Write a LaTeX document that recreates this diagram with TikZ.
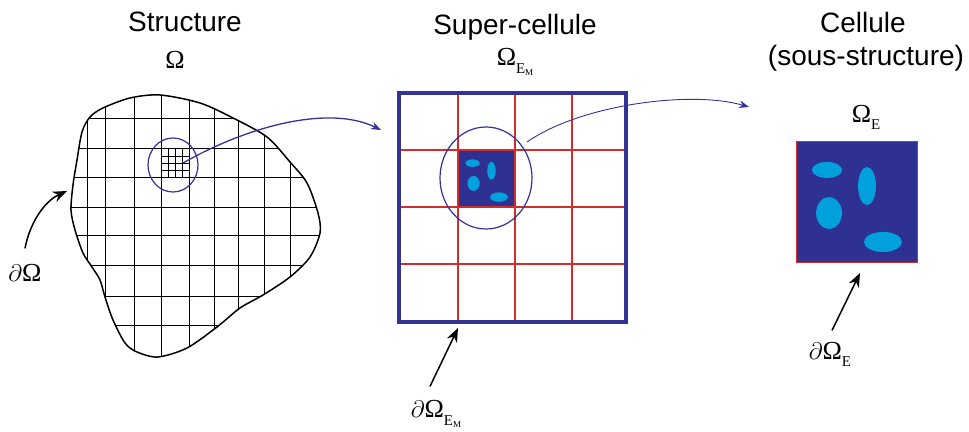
\documentclass[tikz,border=0pt]{standalone}
\usepackage{fontspec}
\setsansfont{Liberation Sans}
\newfontfamily\omfont{Liberation Serif}
\usepackage{tikz}
\usetikzlibrary{arrows.meta, positioning, shapes.geometric}
\definecolor{cellblue}{RGB}{46,49,146}
\definecolor{lineblue}{RGB}{52,50,152}
\definecolor{inclblue}{RGB}{0,160,220}
\definecolor{gridred}{RGB}{210,45,45}
\newcommand\subE{\raisebox{-3.5pt}{\fontsize{7.5}{7.5}\selectfont E}}
\newcommand\subEM{\raisebox{-4pt}{\fontsize{7.5}{7.5}\selectfont E\raisebox{-1pt}{\fontsize{4.5}{4.5}\selectfont M}}}
\newcommand\inclusions[3]{%
  \fill[inclblue] ({#1+0.256*#3},{#2+0.231*#3}) ellipse [x radius=0.062*#3pt, y radius=0.033*#3pt];
  \fill[inclblue] ({#1+0.587*#3},{#2+0.364*#3}) ellipse [x radius=0.037*#3pt, y radius=0.0785*#3pt];
  \fill[inclblue] ({#1+0.273*#3},{#2+0.587*#3}) ellipse [x radius=0.0535*#3pt, y radius=0.066*#3pt];
  \fill[inclblue] ({#1+0.719*#3},{#2+0.826*#3}) ellipse [x radius=0.0785*#3pt, y radius=0.0415*#3pt];
}

\begin{document}
\begin{tikzpicture}[
    x=0.5pt, y=-0.5pt,
    title/.style={font=\fontsize{14}{16}\selectfont\sffamily, anchor=base},
    sym/.style={font=\fontsize{13}{13}\selectfont\omfont, anchor=base, inner sep=1pt},
    mesh/.style={line width=0.5pt, black},
    outline/.style={line width=0.75pt},
    lens/.style={ellipse, draw=lineblue, line width=0.6pt, inner sep=0pt},
    redgrid/.style={draw=gridred, line width=0.55pt},
    superframe/.style={rectangle, draw=lineblue, line width=2pt, inner sep=0pt},
    arr/.style={-{Stealth[length=7pt, width=5.5pt]}, line width=0.75pt},
    zoomarr/.style={-{Stealth[length=5pt, width=3.8pt]}, draw=lineblue, line width=0.65pt}
]
\useasboundingbox (0,0) rectangle (969,432);

\node[title] (tstruct) at (185,32) {Structure};
\node[title] (tsuper) at (515,35) {Super-cellule};
\node[title] (tcell) at (863,33) {Cellule};
\node[title] (tsous) at (866,66) {(sous-structure)};

\node[sym] (omS) at (175,69) {Ω};
\node[sym] (omEM) at (515,66) {Ω\subEM};
\node[sym] (omE) at (866,123) {Ω\subE};

\path[save path=\blobshape] plot[smooth cycle, tension=0.5] coordinates {
  (160,95) (200,103) (233,118) (267,137) (290,162) (307,183) (318,213) (320,233)
  (310,257) (290,277) (263,295) (240,308) (217,327) (187,348) (158,357) (137,352)
  (125,343) (113,320) (105,297) (100,280) (92,267) (83,253) (75,230) (71,210)
  (73,185) (77,160) (82,132) (90,117) (103,108) (130,98)};
\begin{scope}
  \clip[use path=\blobshape];
  \foreach \gx in {87,105,134,161,189,214,238,264,290}
    \draw[mesh] (\gx,90) -- (\gx,360);
  \foreach \gy in {119,149,178,208,236,266,297,326}
    \draw[mesh] (65,\gy) -- (325,\gy);
\end{scope}
\draw[outline, use path=\blobshape];
\foreach \k in {1,2,3} {
  \draw[mesh] ({161+7*\k},149) -- ({161+7*\k},178);
  \draw[mesh] (161,{149+7.25*\k}) -- (189,{149+7.25*\k});
}
\node[lens, minimum width=25pt, minimum height=27pt] (lensA) at (173,165) {};

\fill[cellblue] (458,150) rectangle (515,207);
\inclusions{458}{150}{57}
\foreach \gx in {458,515,572}
  \draw[redgrid] (\gx,93) -- (\gx,322);
\foreach \gy in {150,207,264}
  \draw[redgrid] (399,\gy) -- (626,\gy);
\node[superframe, minimum width=113.5pt, minimum height=114.5pt] (super) at (512.5,207.5) {};
\node[lens, minimum width=46pt, minimum height=51pt] (lensB) at (486,178) {};

\node[rectangle, draw=gridred, fill=cellblue, line width=0.5pt, inner sep=0pt, minimum size=60.5pt] (cell) at (856.5,202.5) {};
\inclusions{796}{142}{121}

\coordinate (zoomA) at (183,163);
\coordinate (superin) at (381,130);
\coordinate (zoomB) at (527,142);
\coordinate (cellin) at (749,107);
\draw[zoomarr] (zoomA) .. controls (250,125) and (330,105) .. (superin);
\draw[zoomarr, line width=0.45pt] (zoomB) .. controls (580,105) and (690,90) .. (cellin);

\node[sym] (dO) at (25,282) {$\partial$Ω};
\node[sym] (dOEM) at (436,418) {$\partial$Ω\subEM};
\node[sym] (dOE) at (830,360) {$\partial$Ω\subE};
\coordinate (blobedge) at (67,191);
\coordinate (superbot) at (458,328);
\coordinate (cellbot) at (860,273);
\draw[arr] ([yshift=7pt]dO.north) .. controls (30,222) and (45,201) .. (blobedge);
\draw[arr] ([xshift=-3pt,yshift=6pt]dOEM.north) -- (superbot);
\draw[arr] ([xshift=1pt,yshift=5pt]dOE.north) -- (cellbot);
\end{tikzpicture}
\end{document}
